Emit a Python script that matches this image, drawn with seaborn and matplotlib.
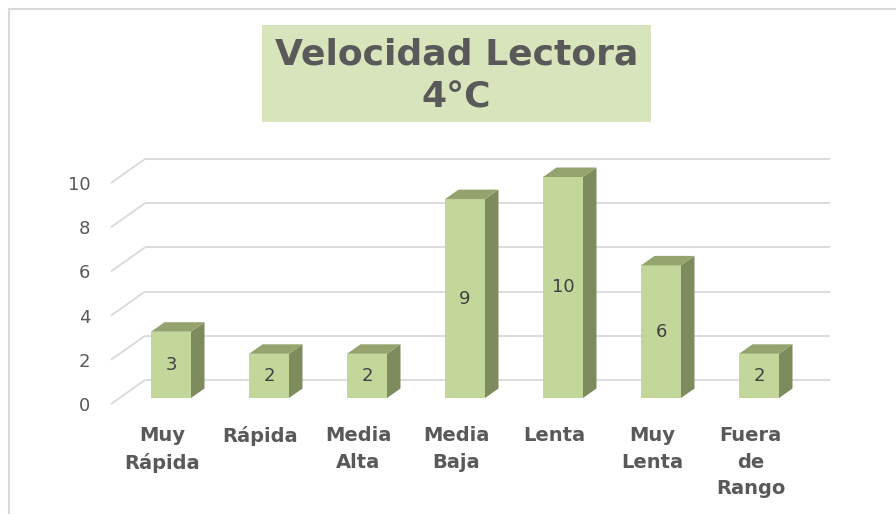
import matplotlib
matplotlib.use("Agg")
import matplotlib.pyplot as plt
from matplotlib.patches import Polygon, Rectangle
from matplotlib.lines import Line2D
import seaborn as sns

# === Data ===
categories = ["Muy\nRápida", "Rápida", "Media\nAlta", "Media\nBaja",
              "Lenta", "Muy\nLenta", "Fuera\nde\nRango"]
values = [3, 2, 2, 9, 10, 6, 2]
y_ticks = [0, 2, 4, 6, 8, 10]
title = "Velocidad Lectora\n4°C"

# === Style ===
FRONT = "#C4D79B"
SIDE = "#7E8B5D"
TOP = "#95A46F"
GRID = "#D9D9D9"
TEXT = "#595959"
LABEL = "#404040"
TITLE_BG = "#D8E4BC"

sns.set_style("white")
plt.rcParams["font.family"] = ["DejaVu Sans"]

fig = plt.figure(figsize=(8.96, 5.14), dpi=100)

# axes = front floor plane, pixel geometry
PX_X = 98.0     # px per category
PX_Y = 22.1     # px per unit
x0_px, x1_px, x_first = 111, 830, 162.5
y0_px, ytop_px = 404, 150
ax = fig.add_axes([x0_px / 896, (514 - y0_px) / 514,
                   (x1_px - x0_px) / 896, (y0_px - ytop_px) / 514])

sns.barplot(x=categories, y=values, color=FRONT, saturation=1,
            width=40 / PX_X, linewidth=0, ax=ax, zorder=3)

ax.set_xlim((x0_px - x_first) / PX_X, (x1_px - x_first) / PX_X)
ax.set_ylim(0, (y0_px - ytop_px) / PX_Y)

# floor depth (back wall) and bar offsets, in data units
floor_dx, floor_dy = 34 / PX_X, 24 / PX_Y
bar_ox, bar_oy = 8.5 / PX_X, 6 / PX_Y
depth_dx, depth_dy = 13.5 / PX_X, 9.5 / PX_Y

# gridlines: diagonal on the floor side + line on the back wall
xl, xr = ax.get_xlim()
for v in y_ticks:
    ax.plot([xl, xl + floor_dx], [v, v + floor_dy], color=GRID, lw=1.3,
            zorder=1, clip_on=False, solid_capstyle="butt")
    ax.plot([xl + floor_dx, xr], [v + floor_dy, v + floor_dy], color=GRID,
            lw=1.3, zorder=1, clip_on=False, solid_capstyle="butt")

# 3D bars: shift front face, add side and top faces
for patch in ax.patches:
    patch.set_x(patch.get_x() + bar_ox)
    patch.set_y(bar_oy)
    bx, by = patch.get_x(), patch.get_y()
    bw, bh = patch.get_width(), patch.get_height()
    bx1 = bx + bw
    side = Polygon([(bx1, by), (bx1 + depth_dx, by + depth_dy),
                    (bx1 + depth_dx, by + bh + depth_dy), (bx1, by + bh)],
                   closed=True, facecolor=SIDE, edgecolor="none", zorder=3)
    top = Polygon([(bx, by + bh), (bx1, by + bh),
                   (bx1 + depth_dx, by + bh + depth_dy),
                   (bx + depth_dx, by + bh + depth_dy)],
                  closed=True, facecolor=TOP, edgecolor="none", zorder=3)
    ax.add_patch(side)
    ax.add_patch(top)

ax.bar_label(ax.containers[0], label_type="center", fontsize=13,
             color=LABEL)

# axes text
ax.set_yticks(y_ticks)
ax.tick_params(axis="y", length=0, pad=15, labelsize=13, labelcolor=TEXT)
ax.tick_params(axis="x", length=0, pad=16, labelsize=14, labelcolor=TEXT)
for lab in ax.get_xticklabels():
    lab.set_fontweight("bold")
    lab.set_linespacing(1.5)
ax.set_xlabel("")
ax.set_ylabel("")
sns.despine(ax=ax, left=True, bottom=True)
ax.patch.set_alpha(0)

# title box
fig.patches.append(Rectangle((262 / 896, (514 - 122) / 514), 389 / 896,
                             97 / 514, transform=fig.transFigure,
                             facecolor=TITLE_BG, edgecolor="none"))
fig.text(456.5 / 896, (514 - 76) / 514, title, ha="center", va="center",
         fontsize=26, fontweight="bold", color=TEXT, linespacing=1.35)

# outer chart frame (top and left edges only)
fig.lines.append(Line2D([9 / 896, 1], [(514 - 9) / 514] * 2,
                        transform=fig.transFigure, color=GRID, lw=1.5))
fig.lines.append(Line2D([9 / 896] * 2, [0, (514 - 9) / 514],
                        transform=fig.transFigure, color=GRID, lw=1.5))

fig.savefig("out.png", dpi=100)
